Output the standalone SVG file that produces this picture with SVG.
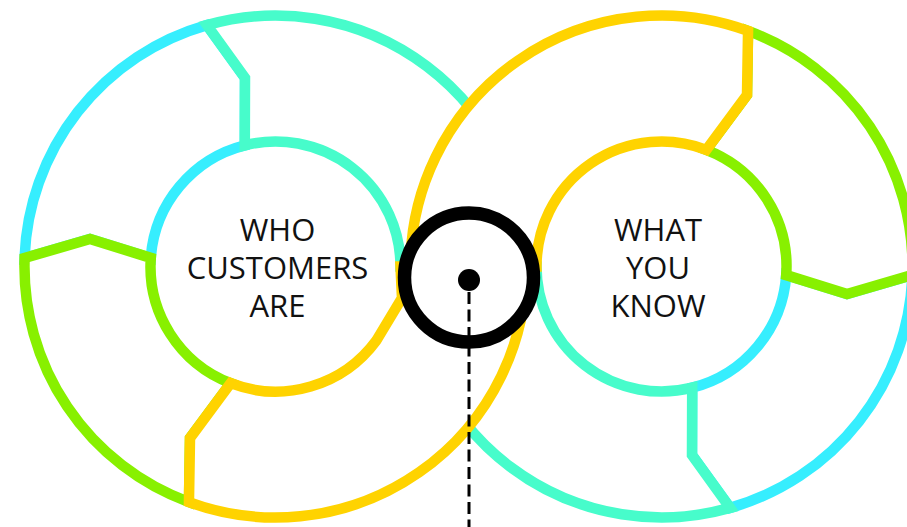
<svg xmlns="http://www.w3.org/2000/svg" width="907" height="527" viewBox="0 0 907 527">
  <style>
    .seg { fill: #ffffff; stroke-width: 10.5; stroke-linejoin: miter; stroke-miterlimit: 10; }
    .cyan { stroke: #36EEFE; }
    .green { stroke: #88F000; }
    .teal { stroke: #47FCCB; }
    .yellow { stroke: #FFD300; }
    .label { font-family: "Open Sans", "Noto Sans", "Liberation Sans", sans-serif; font-size: 31px; fill: #111111; text-anchor: middle; }
    .hub { fill: #ffffff; stroke: #000000; stroke-width: 13.5; }
    .connector { stroke: #000000; stroke-width: 3; stroke-dasharray: 12 5.5; fill: none; }
  </style>
  <rect width="907" height="527" fill="#ffffff"/>

  <g id="left-cycle">
    <path class="seg cyan" d="M 24.6,258 A 251 251 0 0 1 206.9,25.1 L 245,78 L 244.8,145.3 A 125 125 0 0 0 150.8,257.9 L 90,239 Z"/>
    <path class="seg green" d="M 188.95,502.1 A 251 251 0 0 1 24.6,258 L 90,239 L 150.8,257.9 A 125 125 0 0 0 230.7,383.2 L 190,438 Z"/>
  </g>

  <g id="right-cycle">
    <path class="seg cyan" d="M 912.4,275 A 251 251 0 0 1 730.1,507.9 L 692,455 L 692.2,387.7 A 125 125 0 0 0 786.2,275.1 L 847,294 Z"/>
    <path class="seg green" d="M 748.05,30.9 A 251 251 0 0 1 912.4,275 L 847,294 L 786.2,275.1 A 125 125 0 0 0 706.3,149.8 L 747,95 Z"/>
  </g>

  <g id="crossing-bands">
    <path id="teal-band" class="seg teal" d="M 206.9,25.1 A 251 251 0 0 1 526.5,266.5 L 536.5,266.5 A 125 125 0 0 0 692.2,387.7 L 692,455 L 730.1,507.9 A 251 251 0 0 1 410.5,266.5 L 400.5,266.5 A 125 125 0 0 0 244.8,145.3 L 245,78 Z"/>
    <path id="yellow-band" class="seg yellow" d="M 188.95,502.1 A 251 251 0 0 0 526.5,266.5 L 536.5,266.5 A 125 125 0 0 1 706.3,149.8 L 747,95 L 748.05,30.9 A 251 251 0 0 0 410.5,266.5 L 400.5,266.5 L 402,298 L 376.3,340.6 A 125 125 0 0 1 230.7,383.2 L 190,438 Z"/>
  </g>

  <g id="node-who-customers-are">
    <text class="label" x="277.5" y="241">WHO</text>
    <text class="label" x="277.5" y="279">CUSTOMERS</text>
    <text class="label" x="277.5" y="317">ARE</text>
  </g>

  <g id="node-what-you-know">
    <text class="label" x="658" y="241">WHAT</text>
    <text class="label" x="658" y="279">YOU</text>
    <text class="label" x="658" y="317">KNOW</text>
  </g>

  <g id="node-hub">
    <circle class="hub" cx="469" cy="277.5" r="64.5"/>
  </g>

  <g id="connectors">
    <line class="connector" x1="469" y1="292" x2="469" y2="527"/>
    <circle cx="469" cy="280" r="11" fill="#000000"/>
  </g>
</svg>
